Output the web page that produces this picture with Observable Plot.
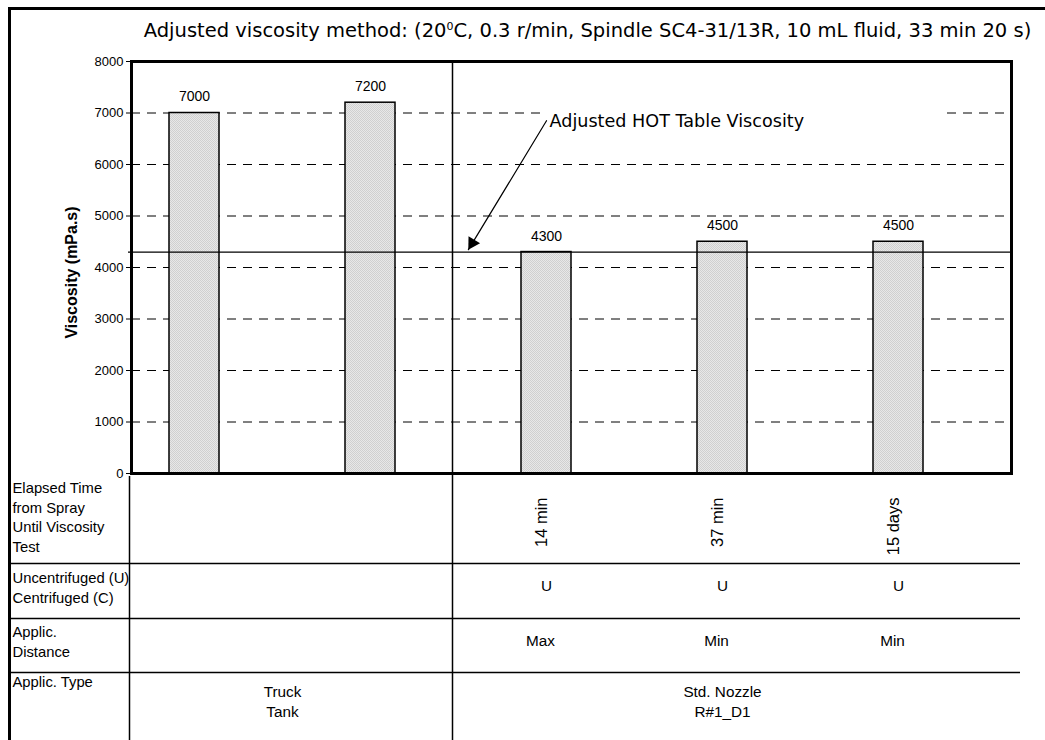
<!DOCTYPE html>
<html><head><meta charset="utf-8">
<script src="https://cdn.jsdelivr.net/npm/d3@7"></script>
<script src="https://cdn.jsdelivr.net/npm/@observablehq/plot@0.6"></script>
<style>
html,body{margin:0;padding:0;background:#fff;overflow:hidden;}
#wrap{position:relative;width:1045px;height:740px;overflow:hidden;}
#border{position:absolute;left:8px;top:7px;width:1100px;height:800px;border-left:3px solid #000;border-top:3px solid #000;}
#title{position:absolute;left:100px;width:975px;top:18px;text-align:center;font-family:"DejaVu Sans",sans-serif;font-size:19.5px;line-height:26px;color:#000;white-space:nowrap;}
#title sup{font-size:11px;line-height:0;}
#chart{position:absolute;left:0;top:50px;}
</style></head><body>
<div id="wrap"><div id="border"></div><div id="title">Adjusted viscosity method: (20<sup>0</sup>C, 0.3 r/min, Spindle SC4-31/13R, 10 mL fluid, 33 min 20 s)</div><div id="chart"></div></div>
<script>
const categories = ["Truck Tank A", "Truck Tank B", "14 min", "37 min", "15 days"];
const viscosity = [7000, 7200, 4300, 4500, 4500];
const elapsedTime = ["", "", "14 min", "37 min", "15 days"];
const centrifuged = ["", "", "U", "U", "U"];
const applicDistance = ["", "", "Max", "Min", "Min"];
const applicTypeGroups = ["Truck\nTank", "Std. Nozzle\nR#1_D1"];
const rowLabels = ["Elapsed Time\nfrom Spray\nUntil Viscosity\nTest", "Uncentrifuged (U)\nCentrifuged (C)", "Applic.\nDistance", "Applic. Type"];
const hotTableViscosity = 4300;
const annotationLabel = "Adjusted HOT Table Viscosity";
const yLabel = "Viscosity (mPa.s)";
const yTicks = [0, 1000, 2000, 3000, 4000, 5000, 6000, 7000, 8000];
const gridTicks = [1000, 2000, 3000, 4000, 5000, 6000, 7000];

const rows = categories.map((c, i) => ({cat: c, v: viscosity[i], elapsed: elapsedTime[i], cent: centrifuged[i], dist: applicDistance[i]}));
const nozzleRows = rows.filter(d => d.elapsed);
const tableFont = 15.3;
const labelFont = 14.8;
const verdana = "'DejaVu Sans',sans-serif";

const plot = Plot.plot({
  width: 1045, height: 700,
  marginLeft: 131, marginRight: 34, marginTop: 11, marginBottom: 277,
  style: {fontFamily: "'Liberation Sans', Arial, sans-serif", fontSize: "13px", color: "#000", background: "transparent"},
  x: {type: "band", domain: categories, paddingInner: 0.716, paddingOuter: 0.358, align: 0.3, axis: null},
  y: {domain: [0, 8000], axis: null},
  marks: [
    Plot.ruleY(gridTicks, {stroke: "#000", strokeWidth: 1, strokeDasharray: "9,7"}),
    Plot.barY([{c: categories[3]}], {x: "c", y1: 6650, y2: 7350, fill: "white", insetLeft: -152, insetRight: -193}),
    Plot.barY(rows, {x: "cat", y: "v", fill: "url(#hatch)", stroke: "#000", strokeWidth: 1.5}),
    Plot.ruleY([hotTableViscosity], {stroke: "#000", strokeWidth: 1.2, insetLeft: -3}),
    Plot.ruleX([categories[2]], {dx: -94, stroke: "#000", strokeWidth: 1.5, insetBottom: -280}),
    Plot.ruleX([categories[0]], {dx: -65, stroke: "#000", strokeWidth: 1.5, insetTop: 415, insetBottom: -280}),
    Plot.ruleY([0], {dy: 90, stroke: "#000", strokeWidth: 1.5, insetLeft: -121, insetRight: -9}),
    Plot.ruleY([0], {dy: 145, stroke: "#000", strokeWidth: 1.5, insetLeft: -121, insetRight: -9}),
    Plot.ruleY([0], {dy: 199, stroke: "#000", strokeWidth: 1.5, insetLeft: -121, insetRight: -9}),
    Plot.frame({stroke: "#000", strokeWidth: 3}),
    Plot.axisY(yTicks, {tickSize: 5, tickPadding: 3, fontSize: 13, label: null, strokeWidth: 1, tickFormat: d => String(d)}),
    Plot.text([yLabel], {frameAnchor: "left", textAnchor: "middle", rotate: -90, dx: -60, dy: 5, fontWeight: "bold", fontSize: 16}),
    Plot.text(rows, {x: "cat", y: "v", text: d => String(d.v), dy: -16, fontSize: 14}),
    Plot.text([{c: categories[2], v: 6830, t: annotationLabel}], {x: "c", y: "v", text: "t", dx: 3, textAnchor: "start", fontFamily: verdana, fontSize: 17.6}),
    Plot.arrow([{a: categories[2], b: categories[1]}], {x1: "a", y1: () => 6850, x2: "b", y2: () => 1208, insetEnd: 189, headLength: 0, stroke: "#000", strokeWidth: 1.2}),
    Plot.dot([{c: categories[2], v: 4350}], {x: "c", y: "v", dx: -74.2, dy: -6.3, symbol: "triangle", r: 5, fill: "#000", stroke: "none", rotate: 211}),
    Plot.text(nozzleRows, {x: "cat", frameAnchor: "bottom", text: "elapsed", rotate: -90, textAnchor: "end", dy: 24, fontSize: 16.5}),
    Plot.text(nozzleRows, {x: "cat", frameAnchor: "bottom", text: "cent", dy: 117, fontSize: tableFont}),
    Plot.text(nozzleRows, {x: "cat", frameAnchor: "bottom", text: "dist", dy: 172, dx: -6, fontSize: tableFont}),
    Plot.text([{c: categories[0], t: applicTypeGroups[0]}], {x: "c", frameAnchor: "bottom", text: "t", dx: 88, dy: 243, lineHeight: 1.3, fontSize: tableFont}),
    Plot.text([{c: categories[3], t: applicTypeGroups[1]}], {x: "c", frameAnchor: "bottom", text: "t", dy: 243, lineHeight: 1.3, fontSize: tableFont}),
    Plot.text([rowLabels[0]], {frameAnchor: "bottom-left", dx: -119, dy: 6, textAnchor: "start", lineAnchor: "top", lineHeight: 1.32, fontSize: labelFont}),
    Plot.text([rowLabels[1]], {frameAnchor: "bottom-left", dx: -119, dy: 96, textAnchor: "start", lineAnchor: "top", lineHeight: 1.32, fontSize: labelFont}),
    Plot.text([rowLabels[2]], {frameAnchor: "bottom-left", dx: -119, dy: 150, textAnchor: "start", lineAnchor: "top", lineHeight: 1.32, fontSize: labelFont}),
    Plot.text([rowLabels[3]], {frameAnchor: "bottom-left", dx: -119, dy: 200, textAnchor: "start", lineAnchor: "top", lineHeight: 1.32, fontSize: labelFont})
  ]
});

const svg = d3.select(plot);
const defs = svg.insert("defs", ":first-child");
const pat = defs.append("pattern").attr("id", "hatch").attr("width", 2).attr("height", 2).attr("patternUnits", "userSpaceOnUse");
pat.append("rect").attr("width", 2).attr("height", 2).attr("fill", "#e8e8e8");
pat.append("rect").attr("width", 1).attr("height", 1).attr("fill", "#d0d0d0");
pat.append("rect").attr("x", 1).attr("y", 1).attr("width", 1).attr("height", 1).attr("fill", "#d0d0d0");
svg.style("overflow", "visible");
document.getElementById("chart").appendChild(plot);
</script>
</body></html>
